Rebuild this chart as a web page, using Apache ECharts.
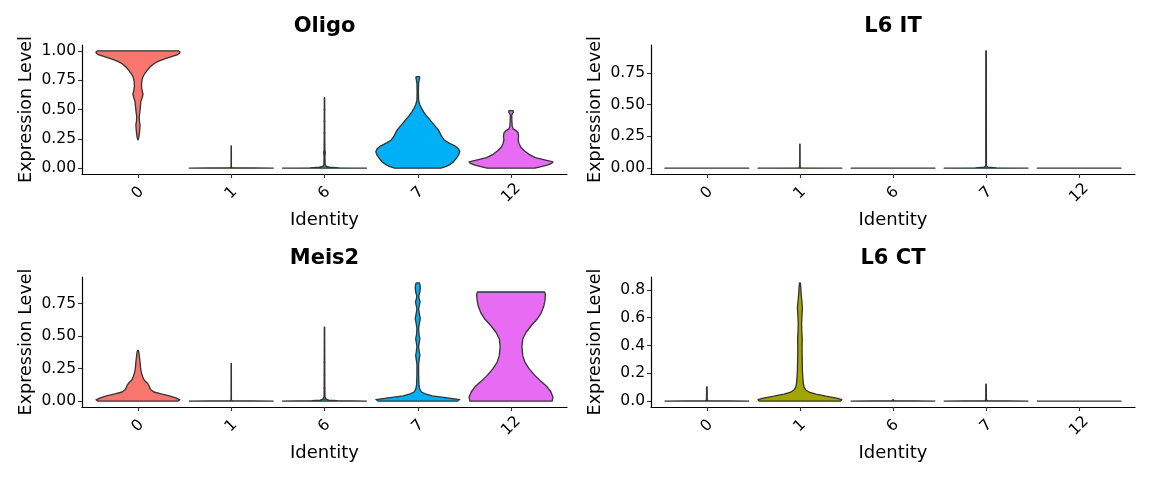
<!DOCTYPE html>
<html>
<head>
<meta charset="utf-8">
<script src="https://cdn.jsdelivr.net/npm/echarts@6/dist/echarts.min.js"></script>
<style>
html,body{margin:0;padding:0;background:#fff;}
#chart{width:1152px;height:480px;}
</style>
</head>
<body>
<div id="chart"></div>
<script>
// ---------- data ----------
const categories = ['0', '1', '6', '7', '12'];
const catColors = ['#F8766D', '#A3A500', '#00BF7D', '#00B0F6', '#E76BF3'];
const panelTitles = ['Oligo', 'L6 IT', 'Meis2', 'L6 CT'];

// violin density profiles: [expression level, relative half-width (1 = widest)]
const oligoViolins = [
  [[0.24,0],[0.26,0.02],[0.3,0.035],[0.34,0.045],[0.37,0.05],[0.4,0.035],[0.44,0.03],[0.48,0.045],[0.53,0.06],[0.57,0.07],[0.6,0.1],[0.63,0.12],[0.66,0.1],[0.7,0.085],[0.74,0.09],[0.77,0.11],[0.8,0.15],[0.83,0.21],[0.86,0.28],[0.89,0.38],[0.91,0.48],[0.93,0.62],[0.95,0.8],[0.965,0.93],[0.98,0.99],[0.99,1.0],[1.0,0.97]],
  [[0,1],[0.004,0.02],[0.01,0.004],[0.19,0.003]],
  [[0,1],[0.003,0.35],[0.008,0.12],[0.015,0.04],[0.03,0.015],[0.1,0.01],[0.13,0.02],[0.16,0.008],[0.3,0.006],[0.6,0.004]],
  [[0,0.55],[0.015,0.68],[0.03,0.76],[0.05,0.84],[0.08,0.91],[0.11,0.97],[0.14,1.0],[0.165,0.97],[0.19,0.88],[0.215,0.74],[0.24,0.63],[0.27,0.57],[0.3,0.53],[0.33,0.48],[0.36,0.41],[0.39,0.34],[0.42,0.27],[0.45,0.2],[0.48,0.14],[0.51,0.09],[0.54,0.05],[0.57,0.025],[0.6,0.018],[0.66,0.016],[0.72,0.02],[0.755,0.035],[0.77,0.045],[0.78,0.04]],
  [[0,0.57],[0.012,0.72],[0.025,0.86],[0.04,0.97],[0.053,1.0],[0.07,0.8],[0.09,0.58],[0.12,0.42],[0.15,0.31],[0.18,0.23],[0.21,0.19],[0.24,0.17],[0.27,0.18],[0.3,0.17],[0.32,0.12],[0.335,0.05],[0.36,0.028],[0.4,0.02],[0.45,0.016],[0.465,0.03],[0.475,0.055],[0.49,0.05]]
];
const l6itViolins = [
  [[0,1],[0,1]],
  [[0,1],[0.003,0.02],[0.01,0.005],[0.19,0.004]],
  [[0,1],[0,1]],
  [[0,1],[0.003,0.25],[0.008,0.04],[0.02,0.008],[0.925,0.006]],
  [[0,1],[0,1]]
];
const meis2Violins = [
  [[0,0.95],[0.01,1.0],[0.025,0.9],[0.04,0.75],[0.055,0.55],[0.07,0.38],[0.09,0.3],[0.12,0.26],[0.14,0.22],[0.16,0.15],[0.19,0.11],[0.22,0.08],[0.26,0.06],[0.3,0.05],[0.34,0.035],[0.37,0.025],[0.39,0.01]],
  [[0,1],[0.003,0.02],[0.01,0.004],[0.29,0.003]],
  [[0,1],[0.003,0.3],[0.008,0.1],[0.015,0.04],[0.03,0.012],[0.1,0.008],[0.3,0.006],[0.57,0.004]],
  [[0,0.95],[0.012,1.0],[0.025,0.7],[0.04,0.35],[0.055,0.18],[0.07,0.09],[0.09,0.05],[0.12,0.03],[0.2,0.02],[0.28,0.02],[0.32,0.035],[0.35,0.05],[0.38,0.035],[0.42,0.02],[0.45,0.035],[0.48,0.05],[0.51,0.03],[0.56,0.02],[0.6,0.04],[0.635,0.06],[0.67,0.04],[0.71,0.02],[0.74,0.04],[0.765,0.055],[0.79,0.03],[0.81,0.025],[0.84,0.05],[0.87,0.06],[0.89,0.055],[0.91,0.04]],
  [[0,0.98],[0.03,1.0],[0.07,0.95],[0.11,0.86],[0.15,0.72],[0.2,0.56],[0.25,0.43],[0.3,0.33],[0.35,0.28],[0.42,0.26],[0.48,0.28],[0.53,0.36],[0.58,0.48],[0.63,0.62],[0.68,0.72],[0.73,0.78],[0.78,0.81],[0.82,0.82],[0.84,0.8]]
];
const l6ctViolins = [
  [[0,1],[0.003,0.03],[0.01,0.008],[0.1,0.006]],
  [[0,0.97],[0.01,1.0],[0.02,0.9],[0.035,0.62],[0.05,0.38],[0.065,0.22],[0.08,0.14],[0.1,0.1],[0.13,0.08],[0.17,0.07],[0.22,0.06],[0.3,0.055],[0.38,0.05],[0.45,0.055],[0.5,0.045],[0.56,0.04],[0.62,0.05],[0.67,0.06],[0.72,0.045],[0.77,0.03],[0.82,0.02],[0.85,0.01]],
  [[0,1],[0.003,0.02],[0.01,0.004]],
  [[0,1],[0.003,0.03],[0.01,0.008],[0.12,0.006]],
  [[0,1],[0,1]]
];

// visible single cells along thin tails: [category position, level]
const oligoDots = [[3,0.13],[3,0.2],[3,0.3],[3,0.4],[3,0.5]];
const l6itDots = [[4,0.9]];
const meis2Dots = [[3,0.01],[3,0.1],[3,0.2],[3,0.3]];
const l6ctDots = [[1,0.03],[1,0.05],[1,0.07],[1,0.1],[4,0.03],[4,0.06],[4,0.09],[4,0.12]];

// y axis ranges and tick labels
const yRanges = [[-0.05, 1.05], [-0.046, 0.971], [-0.0455, 0.9555], [-0.0425, 0.8925]];
const yTicks = [[0, 0.25, 0.5, 0.75, 1.0], [0, 0.25, 0.5, 0.75], [0, 0.25, 0.5, 0.75], [0, 0.2, 0.4, 0.6, 0.8]];
const yDecimals = [2, 2, 2, 1];

// ---------- layout ----------
const panels = [oligoViolins, l6itViolins, meis2Violins, l6ctViolins];
const panelDots = [oligoDots, l6itDots, meis2Dots, l6ctDots];
const grids = [
  {left: 82, top: 45, width: 485, height: 129},
  {left: 651, top: 45, width: 484, height: 129},
  {left: 82, top: 277, width: 485, height: 130},
  {left: 651, top: 277, width: 484, height: 130}
];
const FONT = 'DejaVu Sans';
const catPos = [1, 2, 3, 4, 5];
const HALF = 0.45;

const option = {
  animation: false,
  backgroundColor: '#ffffff',
  title: panelTitles.map((t, i) => ({
    text: t,
    left: grids[i].left + grids[i].width / 2,
    top: i < 2 ? 16 : 248,
    textAlign: 'center',
    padding: 0,
    textStyle: {fontFamily: FONT, fontWeight: 'bold', fontSize: 21, color: '#000'}
  })),
  grid: grids,
  xAxis: grids.map((g, i) => ({
    type: 'value', gridIndex: i, min: 0.4, max: 5.6,
    name: 'Identity', nameLocation: 'middle', nameGap: 37,
    nameTextStyle: {fontFamily: FONT, fontSize: 18, color: '#000'},
    axisLine: {show: true, onZero: false, lineStyle: {color: '#000', width: 1.2}},
    axisTick: {show: true, length: 4, customValues: catPos, lineStyle: {color: '#333', width: 1.1}},
    axisLabel: {
      customValues: catPos, rotate: 45, align: 'center', verticalAlign: 'middle', margin: 19,
      fontFamily: FONT, fontSize: 15.5, color: '#000',
      formatter: v => categories[Math.round(v) - 1]
    },
    splitLine: {show: false}
  })),
  yAxis: grids.map((g, i) => ({
    type: 'value', gridIndex: i, min: yRanges[i][0], max: yRanges[i][1],
    name: 'Expression Level', nameLocation: 'middle', nameGap: 47, nameRotate: 90,
    nameTextStyle: {fontFamily: FONT, fontSize: 17.5, color: '#000'},
    axisLine: {show: true, onZero: false, lineStyle: {color: '#000', width: 1.2}},
    axisTick: {show: true, length: 4, customValues: yTicks[i], lineStyle: {color: '#333', width: 1.1}},
    axisLabel: {
      customValues: yTicks[i], margin: 6,
      fontFamily: FONT, fontSize: 15.5, color: '#000',
      formatter: v => v.toFixed(yDecimals[i])
    },
    splitLine: {show: false}
  })),
  series: []
};

panels.forEach((violins, pi) => {
  option.series.push({
    type: 'custom',
    xAxisIndex: pi, yAxisIndex: pi,
    clip: false,
    data: catPos.map((p, ci) => [p, violins[ci][violins[ci].length - 1][0]]),
    encode: {x: 0, y: 1},
    renderItem: function (params, api) {
      const ci = params.dataIndex;
      const x = api.value(0);
      const prof = violins[ci];
      const pts = [];
      for (let k = 0; k < prof.length; k++) {
        pts.push(api.coord([x + prof[k][1] * HALF, prof[k][0]]));
      }
      for (let k = prof.length - 1; k >= 0; k--) {
        pts.push(api.coord([x - prof[k][1] * HALF, prof[k][0]]));
      }
      return {
        type: 'polygon',
        shape: {points: pts},
        style: {fill: catColors[ci], stroke: '#333333', lineWidth: 1.3, lineJoin: 'round'}
      };
    }
  });
  option.series.push({
    type: 'scatter',
    xAxisIndex: pi, yAxisIndex: pi,
    data: panelDots[pi],
    symbolSize: 2,
    itemStyle: {color: '#444'},
    silent: true
  });
});

const chart = echarts.init(document.getElementById('chart'), null, {renderer: 'canvas'});
chart.setOption(option);
</script>
</body>
</html>
